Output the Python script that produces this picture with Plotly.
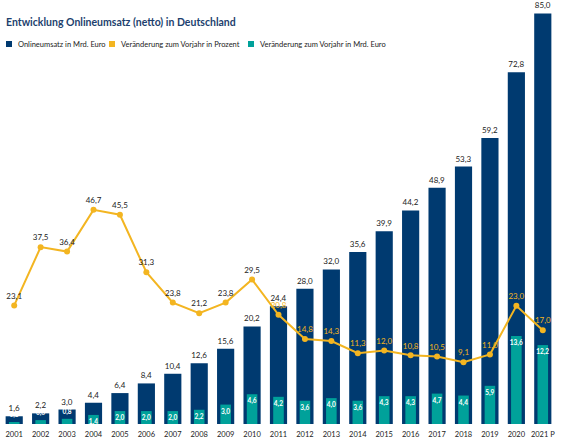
import plotly.graph_objects as go

# Daten
jahre = ["2001", "2002", "2003", "2004", "2005", "2006", "2007", "2008", "2009", "2010", "2011",
         "2012", "2013", "2014", "2015", "2016", "2017", "2018", "2019", "2020", "2021 P"]
umsatz = [1.6, 2.2, 3.0, 4.4, 6.4, 8.4, 10.4, 12.6, 15.6, 20.2, 24.4,
          28.0, 32.0, 35.6, 39.9, 44.2, 48.9, 53.3, 59.2, 72.8, 85.0]
veraenderung_prozent = [23.1, 37.5, 36.4, 46.7, 45.5, 31.3, 23.8, 21.2, 23.8, 29.5, 20.8,
                        14.8, 14.3, 11.3, 12.0, 10.8, 10.5, 9.1, 11.0, 23.0, 17.0]
veraenderung_mrd = [0.3, 0.6, 0.8, 1.4, 2.0, 2.0, 2.0, 2.2, 3.0, 4.6, 4.2,
                    3.6, 4.0, 3.6, 4.3, 4.3, 4.7, 4.4, 5.9, 13.6, 12.2]
legende = ["Onlineumsatz in Mrd. Euro", "Veränderung zum Vorjahr in Prozent",
           "Veränderung zum Vorjahr in Mrd. Euro"]

NAVY = "#003a70"
TEAL = "#00a19a"
GELB = "#f3b521"
TEXT = "#222222"
FONT = "Lato, sans-serif"

W, H = 570, 446
ML, MR, MT, MB = 1, 14, 10, 22
PW, PH = W - ML - MR, H - MT - MB


def de(v):
    return f"{v:.1f}".replace(".", ",")


def px_x(x):
    return (x - ML) / PW


def px_y(y):
    return 1 - (y - MT) / PH


fig = go.Figure()

fig.add_trace(go.Bar(
    x=jahre, y=umsatz, name=legende[0],
    marker=dict(color=NAVY, line=dict(width=0)), width=0.65,
    text=[de(v) for v in umsatz], textposition="outside", textangle=0,
    textfont=dict(size=8, color=TEXT, family=FONT), cliponaxis=False,
    yaxis="y",
))

# sehr kleine Balken: Beschriftung über dem Balken statt darin
teal_pos = ["outside" if v < 1 else "inside" for v in veraenderung_mrd]

fig.add_trace(go.Bar(
    x=jahre, y=veraenderung_mrd, name=legende[2],
    marker=dict(color=TEAL, line=dict(width=0)), width=0.4,
    text=[de(v) for v in veraenderung_mrd], textposition=teal_pos, textangle=0,
    insidetextanchor="end", constraintext="none",
    textfont=dict(size=6.5, color="white", family=FONT, weight="bold"),
    outsidetextfont=dict(size=6.5, color="white", family=FONT, weight="bold"),
    cliponaxis=False,
    yaxis="y3",
))

# Farbe der Beschriftung: dunkel über den Balken, gelb innerhalb der Balken
label_farben = [TEXT if i < 10 else GELB for i in range(len(jahre))]

fig.add_trace(go.Scatter(
    x=jahre, y=veraenderung_prozent, name=legende[1],
    mode="lines+markers+text",
    line=dict(color=GELB, width=2), marker=dict(color=GELB, size=6),
    text=[de(v) for v in veraenderung_prozent], textposition="top center",
    textfont=dict(size=8, color=label_farben, family=FONT), cliponaxis=False,
    yaxis="y2",
))

# Legende als kleine Quadrate mit Text
legend_x = [6, 109, 248]
for name, farbe, lx in zip(legende, [NAVY, GELB, TEAL], legend_x):
    fig.add_shape(type="rect", xref="paper", yref="paper",
                  x0=px_x(lx), x1=px_x(lx + 6), y0=px_y(47), y1=px_y(41),
                  fillcolor=farbe, line=dict(width=0))
    fig.add_annotation(text=name, xref="paper", yref="paper",
                       x=px_x(lx + 10), y=px_y(44), xanchor="left", yanchor="middle",
                       showarrow=False, font=dict(size=7.5, color=TEXT, family=FONT))

fig.update_layout(
    width=W, height=H,
    margin=dict(l=ML, r=MR, t=MT, b=MB),
    paper_bgcolor="white", plot_bgcolor="white",
    barmode="overlay",
    font=dict(family=FONT, color=TEXT),
    title=dict(text="<b>Entwicklung Onlineumsatz (netto) in Deutschland</b>",
               x=6 / W, xanchor="left", y=1 - 22 / H, yanchor="middle", pad=dict(l=0),
               font=dict(size=10.5, color="#1d3f6e", family=FONT)),
    showlegend=False,
    xaxis=dict(type="category", range=[-0.5, len(jahre) - 0.5],
               showgrid=False, showline=False, ticks="",
               tickangle=0, automargin=False, ticklabelstandoff=4,
               tickfont=dict(size=7.5, color=TEXT, family=FONT)),
    yaxis=dict(range=[0, 85.7], visible=False, showgrid=False),
    yaxis3=dict(range=[0, 64.0], overlaying="y", visible=False, showgrid=False),
    yaxis2=dict(range=[-6.17, 96.05], overlaying="y", visible=False, showgrid=False),
)

fig.write_html("out.html", config={"displayModeBar": False},
               post_script="document.body.style.margin='0';")
